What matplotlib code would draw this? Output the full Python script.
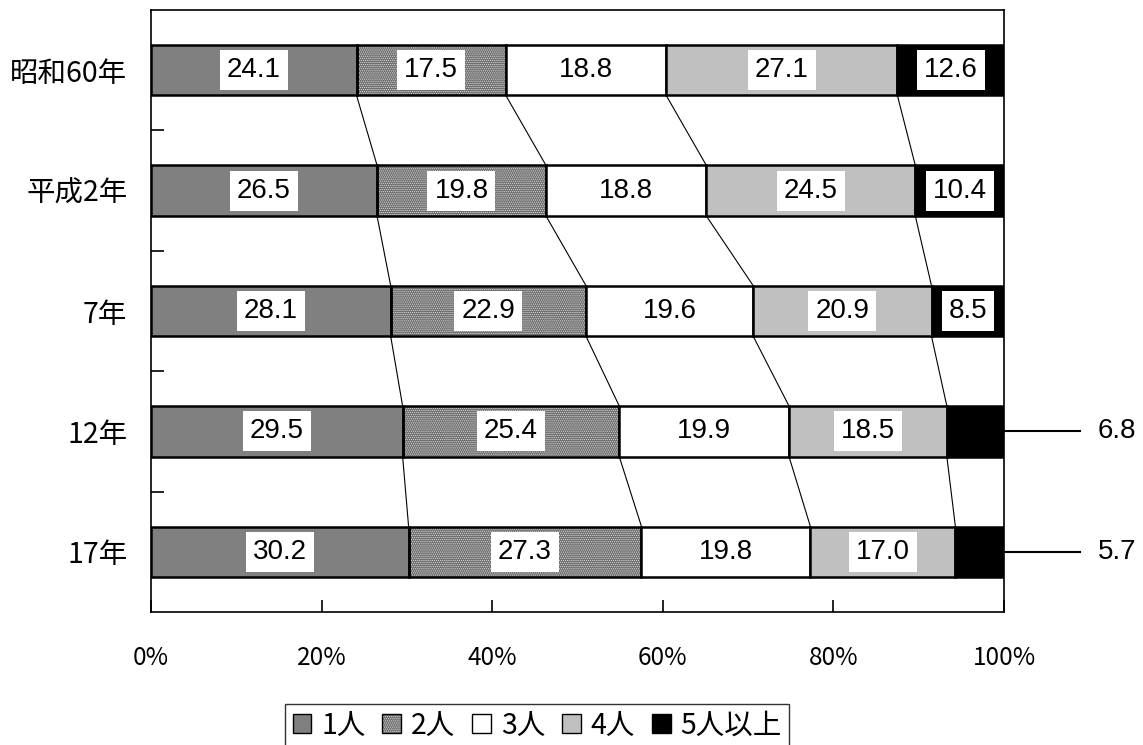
"""Household size composition, stacked horizontal bars with connector lines."""

import matplotlib

matplotlib.use("Agg")
import matplotlib.pyplot as plt
import numpy as np
from matplotlib.patches import Patch

years = ["昭和60年", "平成2年", "7年", "12年", "17年"]
sizes = ["1人", "2人", "3人", "4人", "5人以上"]

one_person = [24.1, 26.5, 28.1, 29.5, 30.2]
two_person = [17.5, 19.8, 22.9, 25.4, 27.3]
three_person = [18.8, 18.8, 19.6, 19.9, 19.8]
four_person = [27.1, 24.5, 20.9, 18.5, 17.0]
five_plus = [12.6, 10.4, 8.5, 6.8, 5.7]

x_ticks = [0, 20, 40, 60, 80, 100]
x_tick_labels = ["0%", "20%", "40%", "60%", "80%", "100%"]

# rows where the last segment is too thin, label goes outside
outside_rows = [3, 4]

CJK = ["Noto Sans CJK JP", "DejaVu Sans"]
NUM = ["Liberation Sans", "DejaVu Sans"]

plt.rcParams["hatch.linewidth"] = 0.6

series = [one_person, two_person, three_person, four_person, five_plus]
faces = ["#808080", "#6a6a6a", "#ffffff", "#c0c0c0", "#000000"]
DOTS = "........"

fig = plt.figure(figsize=(11.43, 7.45), dpi=100)
ax = fig.add_axes([0.1321, 0.1785, 0.7463, 0.8081])

rows = np.arange(len(years))
bar_h = 0.42
values = np.array(series)
left = np.zeros(len(years))
cums = []

for k, vals in enumerate(values):
    if k == 1:
        # dotted fill: white dots on gray, black outline drawn separately
        ax.barh(rows, vals, left=left, height=bar_h, color=faces[k],
                edgecolor="#e0e0e0", hatch=DOTS, linewidth=0, zorder=2)
        ax.barh(rows, vals, left=left, height=bar_h, facecolor="none",
                edgecolor="black", linewidth=1.8, zorder=3)
    else:
        ax.barh(rows, vals, left=left, height=bar_h, color=faces[k],
                edgecolor="black", linewidth=1.8, zorder=3)
    for i, v in enumerate(vals):
        if k == 4 and i in outside_rows:
            continue
        ax.text(left[i] + v / 2, rows[i], f"{v:.1f}", ha="center",
                va="center", fontsize=20, family=NUM, zorder=5,
                bbox=dict(boxstyle="square,pad=0.25", fc="white", ec="none"))
    left = left + vals
    cums.append(left.copy())

# connector lines between bars at each segment boundary
for k in range(4):
    c = cums[k]
    for i in range(len(years) - 1):
        ax.plot([c[i], c[i + 1]], [i + bar_h / 2, i + 1 - bar_h / 2],
                color="black", linewidth=0.8, zorder=1)

for i in outside_rows:
    ax.plot([100, 108.9], [i, i], color="black", linewidth=1.5,
            clip_on=False, zorder=4)
    ax.text(111.0, i, f"{five_plus[i]:.1f}", ha="left", va="center",
            fontsize=20, family=NUM)

ax.set_xlim(0, 100)
ax.set_ylim(len(years) - 0.5, -0.5)

ax.set_xticks(x_ticks)
ax.set_xticklabels(x_tick_labels, family=CJK, fontsize=17.5)
ax.set_yticks(rows)
ax.set_yticklabels(years, family=CJK, fontsize=20.5)
ax.set_yticks(rows[:-1] + 0.5, minor=True)

ax.tick_params(axis="x", direction="in", length=9, width=1.2, pad=24)
ax.tick_params(axis="y", which="major", length=0, pad=17)
ax.tick_params(axis="y", which="minor", direction="in", length=9, width=1.2)

for spine in ax.spines.values():
    spine.set_linewidth(1.2)

dotted = (
    Patch(facecolor=faces[1], edgecolor="#e0e0e0", hatch=DOTS, linewidth=0),
    Patch(facecolor="none", edgecolor="black"),
)
handles = [
    Patch(facecolor=faces[0], edgecolor="black"),
    dotted,
    Patch(facecolor=faces[2], edgecolor="black"),
    Patch(facecolor=faces[3], edgecolor="black"),
    Patch(facecolor=faces[4], edgecolor="black"),
]
leg = fig.legend(handles, sizes, loc="center", bbox_to_anchor=(0.47, 0.026),
                 ncol=5, frameon=True, fancybox=False, edgecolor="black",
                 prop={"family": CJK, "size": 20.5}, handlelength=0.65,
                 handleheight=0.65, handletextpad=0.35, columnspacing=0.6,
                 borderpad=0.25, borderaxespad=0)
leg.get_frame().set_linewidth(1.0)

fig.savefig("out.png", dpi=100)
